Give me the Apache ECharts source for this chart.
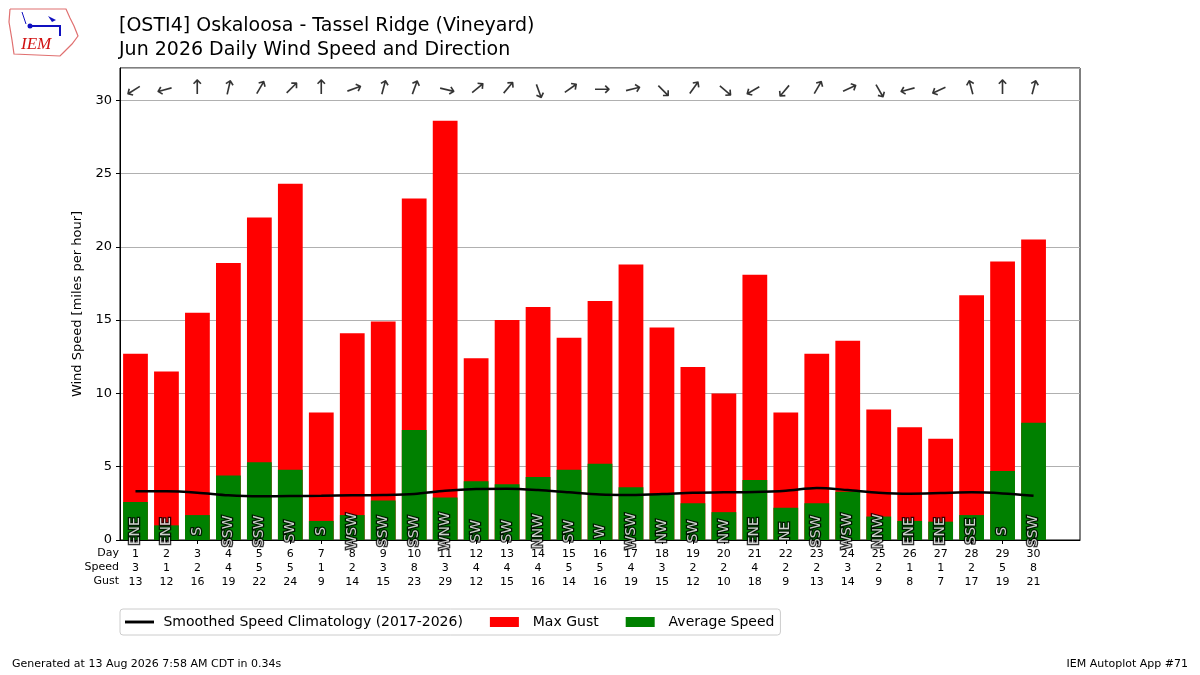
<!DOCTYPE html>
<html>
<head>
<meta charset="utf-8">
<script src="https://cdn.jsdelivr.net/npm/echarts@6/dist/echarts.min.js"></script>
<style>
  html, body { margin: 0; padding: 0; background: #fff; }
  #chart { width: 1200px; height: 675px; }
</style>
</head>
<body>
<div id="chart"></div>
<script>
// daily values
const days = [1, 2, 3, 4, 5, 6, 7, 8, 9, 10, 11, 12, 13, 14, 15, 16, 17, 18, 19, 20, 21, 22, 23, 24, 25, 26, 27, 28, 29, 30];
const avgSpeed = [2.6, 1.0, 1.7, 4.4, 5.3, 4.8, 1.3, 1.7, 2.7, 7.5, 2.9, 4.0, 3.8, 4.3, 4.8,
                  5.2, 3.6, 3.1, 2.5, 1.9, 4.1, 2.2, 2.5, 3.3, 1.6, 1.3, 1.25, 1.7, 4.7, 8.0];
const maxGust = [12.7, 11.5, 15.5, 18.9, 22.0, 24.3, 8.7, 14.1, 14.9, 23.3, 28.6, 12.4, 15.0, 15.9, 13.8,
                 16.3, 18.8, 14.5, 11.8, 10.0, 18.1, 8.7, 12.7, 13.6, 8.9, 7.7, 6.9, 16.7, 19.0, 20.5];
const climo = [3.32, 3.32, 3.23, 3.05, 2.98, 3.0, 3.02, 3.05, 3.07, 3.14, 3.36, 3.48, 3.5, 3.41, 3.25,
               3.1, 3.07, 3.13, 3.23, 3.25, 3.27, 3.36, 3.55, 3.41, 3.23, 3.16, 3.2, 3.25, 3.18, 3.02];
const dirText = ['ENE', 'ENE', 'S', 'SSW', 'SSW', 'SW', 'S', 'WSW', 'SSW', 'SSW', 'WNW', 'SW', 'SW', 'NNW', 'SW',
                 'W', 'WSW', 'NW', 'SW', 'NW', 'ENE', 'NE', 'SSW', 'WSW', 'NNW', 'ENE', 'ENE', 'SSE', 'S', 'SSW'];
const dirDeg = [58, 75, 180, 193, 210, 225, 180, 250, 195, 200, 283, 230, 220, 340, 235,
                270, 256, 315, 216, 310, 60, 40, 210, 245, 330, 75, 65, 165, 180, 195];
const speedLabels = [3, 1, 2, 4, 5, 5, 1, 2, 3, 8, 3, 4, 4, 4, 5, 5, 4, 3, 2, 2, 4, 2, 2, 3, 2, 1, 1, 2, 5, 8];
const gustLabels = [13, 12, 16, 19, 22, 24, 9, 14, 15, 23, 29, 12, 15, 16, 14, 16, 19, 15, 12, 10, 18, 9, 13, 14, 9, 8, 7, 17, 19, 21];
const yTicks = [0, 5, 10, 15, 20, 25, 30];

const FONT = 'DejaVu Sans';
const chart = echarts.init(document.getElementById('chart'));

// the original x range runs to 31.5, so one empty slot is kept on the right
const cats = days.map(String).concat(['']);
const n = days.length;

chart.setOption({
  animation: false,
  textStyle: { fontFamily: FONT },
  grid: { left: 120, right: 120, top: 68, bottom: 135, show: true, borderColor: '#000', borderWidth: 1, backgroundColor: 'transparent' },
  title: {
    text: '[OSTI4] Oskaloosa - Tassel Ridge (Vineyard)\nJun 2026 Daily Wind Speed and Direction',
    left: 119, top: 14, padding: 0,
    textStyle: { fontFamily: FONT, fontSize: 19, fontWeight: 'normal', color: '#000', lineHeight: 24 }
  },
  legend: {
    data: [
      { name: 'Smoothed Speed Climatology (2017-2026)', icon: 'path://M0,0 L30,0 L30,3 L0,3 Z' },
      { name: 'Max Gust', icon: 'rect' },
      { name: 'Average Speed', icon: 'rect' }
    ],
    formatter: name => (name.startsWith('Smoothed') ? ' ' : '  ') + name,
    left: 120, top: 609,
    itemWidth: 29, itemHeight: 10, itemGap: 27,
    padding: [6, 6, 6, 5],
    borderColor: '#ccc', borderWidth: 1, borderRadius: 3,
    textStyle: { fontFamily: FONT, fontSize: 14, color: '#000' }
  },
  xAxis: {
    type: 'category',
    data: cats,
    axisLine: { show: true, lineStyle: { color: '#000' } },
    axisTick: { show: true, alignWithLabel: true, length: 4, interval: i => i < n, lineStyle: { color: '#000' } },
    axisLabel: {
      interval: 0, margin: 7, color: '#000', fontSize: 11, lineHeight: 14,
      formatter: (v, i) => i < n ? days[i] + '\n' + speedLabels[i] + '\n' + gustLabels[i] : ''
    }
  },
  yAxis: {
    type: 'value', min: 0, max: 32.2, interval: 5,
    name: 'Wind Speed [miles per hour]', nameLocation: 'middle', nameGap: 30,
    nameTextStyle: { fontFamily: FONT, fontSize: 13, color: '#000' },
    axisLine: { show: true, lineStyle: { color: '#000' } },
    axisTick: { show: true, length: 4, lineStyle: { color: '#000' } },
    axisLabel: { color: '#000', fontSize: 13, margin: 8, showMaxLabel: false,
      formatter: v => yTicks.includes(v) ? String(v) : '' },
    splitLine: { show: true, lineStyle: { color: '#b0b0b0', width: 1 } }
  },
  series: [
    {
      name: 'Max Gust', type: 'bar', data: maxGust,
      barCategoryGap: '20%', barGap: '-100%',
      itemStyle: { color: '#ff0000' }, z: 2
    },
    {
      name: 'Average Speed', type: 'bar', data: avgSpeed,
      barCategoryGap: '20%', barGap: '-100%',
      itemStyle: { color: '#008000' }, z: 3
    },
    {
      name: 'Smoothed Speed Climatology (2017-2026)', type: 'line', data: climo,
      symbol: 'none', smooth: 0.3,
      lineStyle: { color: '#000', width: 2.5 }, itemStyle: { color: '#000' }, z: 5
    },
    {
      // compass direction text inside each bar
      type: 'scatter', silent: true, z: 6,
      symbolSize: 0,
      data: days.map((d, i) => [i, 0.6]),
      label: {
        show: true, position: 'inside', rotate: 90,
        formatter: p => dirText[p.dataIndex],
        fontFamily: FONT, fontSize: 14, color: '#fff',
        textBorderColor: '#000', textBorderWidth: 2.5
      }
    },
    {
      // wind arrows along the top, pointing where the wind blows to
      type: 'scatter', silent: true, z: 6,
      symbolSize: 0,
      data: days.map((d, i) => ({
        value: [i, 30.75],
        label: { rotate: -((dirDeg[i] + 180) % 360) }
      })),
      label: {
        show: true, position: 'inside',
        formatter: '↑',
        fontFamily: FONT, fontSize: 20, color: '#000'
      }
    }
  ],
  graphic: [
    { type: 'text', x: 119, y: 548, style: { text: 'Day', fontFamily: FONT, fontSize: 11, fill: '#000', align: 'right' } },
    { type: 'text', x: 119, y: 562, style: { text: 'Speed', fontFamily: FONT, fontSize: 11, fill: '#000', align: 'right' } },
    { type: 'text', x: 119, y: 576, style: { text: 'Gust', fontFamily: FONT, fontSize: 11, fill: '#000', align: 'right' } },
    { type: 'text', x: 12, y: 659, style: { text: 'Generated at 13 Aug 2026 7:58 AM CDT in 0.34s', fontFamily: FONT, fontSize: 11, fill: '#000' } },
    { type: 'text', x: 1188, y: 659, style: { text: 'IEM Autoplot App #71', fontFamily: FONT, fontSize: 11, fill: '#000', align: 'right' } },
    // rough IEM logo
    { type: 'polyline', shape: { points: [[10, 9], [66, 9], [70, 18], [74, 26], [78, 36], [72, 44], [64, 52], [60, 56], [14, 54], [12, 40], [9, 22], [10, 9]] },
      style: { stroke: '#e07070', lineWidth: 1.2, fill: 'none' } },
    { type: 'polyline', shape: { points: [[28, 26], [60, 26], [60, 36]] }, style: { stroke: '#1010c0', lineWidth: 2, fill: 'none' } },
    { type: 'circle', shape: { cx: 30, cy: 26, r: 2.5 }, style: { fill: '#1010c0' } },
    { type: 'polyline', shape: { points: [[22, 12], [24, 18], [26, 24]] }, style: { stroke: '#1010c0', lineWidth: 1, fill: 'none' } },
    { type: 'polygon', shape: { points: [[48, 16], [56, 20], [52, 22]] }, style: { fill: '#1010c0' } },
    { type: 'text', x: 21, y: 36, style: { text: 'IEM', fontFamily: 'Liberation Serif', fontStyle: 'italic', fontSize: 17, fill: '#d01010' } }
  ]
});
</script>
</body>
</html>
